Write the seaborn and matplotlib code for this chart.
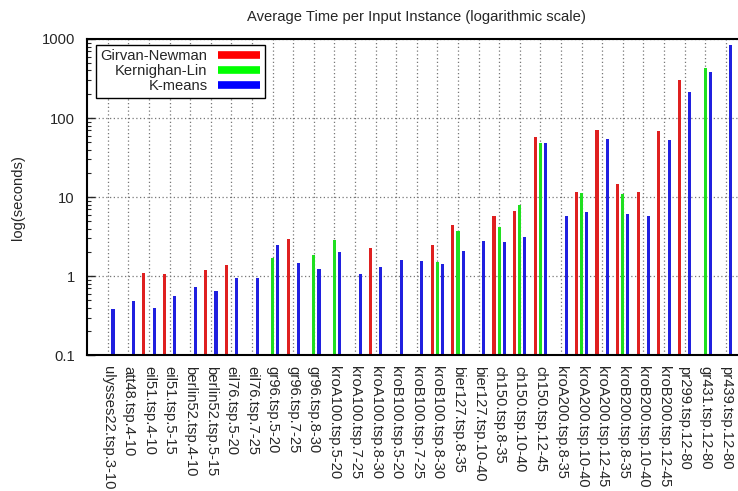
import numpy as np
import pandas as pd
import matplotlib
matplotlib.use("Agg")
import matplotlib.pyplot as plt
from matplotlib.lines import Line2D
import seaborn as sns

instances = [
    "ulysses22.tsp.3-10", "att48.tsp.4-10", "eil51.tsp.4-10", "eil51.tsp.5-15",
    "berlin52.tsp.4-10", "berlin52.tsp.5-15", "eil76.tsp.5-20", "eil76.tsp.7-25",
    "gr96.tsp.5-20", "gr96.tsp.7-25", "gr96.tsp.8-30", "kroA100.tsp.5-20",
    "kroA100.tsp.7-25", "kroA100.tsp.8-30", "kroB100.tsp.5-20", "kroB100.tsp.7-25",
    "kroB100.tsp.8-30", "bier127.tsp.8-35", "bier127.tsp.10-40", "ch150.tsp.8-35",
    "ch150.tsp.10-40", "ch150.tsp.12-45", "kroA200.tsp.8-35", "kroA200.tsp.10-40",
    "kroA200.tsp.12-45", "kroB200.tsp.8-35", "kroB200.tsp.10-40", "kroB200.tsp.12-45",
    "pr299.tsp.12-80", "gr431.tsp.12-80", "pr439.tsp.12-80",
]
nan = np.nan
girvan_newman = [nan, nan, 1.10, 1.07, nan, 1.21, 1.39, nan, nan, 2.97, nan, nan,
                 nan, 2.28, nan, nan, 2.49, 4.46, nan, 5.80, 6.71, 58.0, nan, 11.7,
                 71.1, 14.7, 11.7, 69.1, 305, nan, nan]
kernighan_lin = [nan, nan, nan, nan, nan, nan, nan, nan, 1.71, nan, 1.86, 2.88,
                 nan, nan, nan, nan, 1.52, 3.74, nan, 4.21, 7.99, 48.7, nan, 11.3,
                 nan, 11.0, nan, nan, nan, 433, nan]
k_means = [0.39, 0.49, 0.40, 0.56, 0.74, 0.65, 0.95, 0.95, 2.49, 1.49, 1.24, 2.03,
           1.07, 1.31, 1.61, 1.56, 1.43, 2.09, 2.80, 2.72, 3.14, 48.7, 5.80, 6.52,
           54.7, 6.15, 5.80, 53.1, 215, 386, 847]

algorithms = ["Girvan-Newman", "Kernighan-Lin", "K-means"]
colors = ["#ff0000", "#00ff00", "#0000ff"]

rows = []
for alg, vals in zip(algorithms, [girvan_newman, kernighan_lin, k_means]):
    for inst, v in zip(instances, vals):
        rows.append({"instance": inst, "algorithm": alg, "time": v})
df = pd.DataFrame(rows).dropna()

sns.set_style("white")
plt.rcParams["font.family"] = ["Liberation Sans", "DejaVu Sans"]
plt.rcParams["font.size"] = 10.6

fig = plt.figure(figsize=(7.38, 4.91), dpi=100)
W, H = 738, 491
left, right, top, bottom = 87.3, 746.3, 39.0, 355.3
ax = fig.add_axes([left / W, 1 - bottom / H, (right - left) / W, (bottom - top) / H])

sns.barplot(data=df, x="instance", y="time", hue="algorithm", order=instances,
            hue_order=algorithms, palette=colors, width=0.75, gap=0.4,
            errorbar=None, linewidth=0, ax=ax, legend=False)

ax.set_yscale("log")
ax.set_ylim(0.1, 1000)
ax.set_xlim(-1, len(instances))
ax.set_yticks([0.1, 1, 10, 100, 1000])
ax.set_yticklabels(["0.1", "1", "10", "100", "1000"])
ax.yaxis.set_minor_locator(matplotlib.ticker.LogLocator(base=10, subs=np.arange(2, 10)))
ax.yaxis.set_minor_formatter(matplotlib.ticker.NullFormatter())
ax.tick_params(axis="y", which="major", direction="in", length=6, width=1, pad=9, left=True, right=False)
ax.tick_params(axis="y", which="minor", direction="in", length=3, width=0.8, left=True, right=False)
ax.tick_params(axis="x", length=0, pad=8)
ax.set_xticks(range(len(instances)))
ax.set_xticklabels(instances, rotation=-90, ha="center", va="top")

ax.grid(True, which="major", axis="both", color="#777777", linestyle=(0, (1, 2)), linewidth=0.9)
ax.set_axisbelow(True)
for s in ax.spines.values():
    s.set_linewidth(1.5)
    s.set_color("black")

ax.set_xlabel("")
ax.set_ylabel("log(seconds)", labelpad=12)
ax.set_title("Average Time per Input Instance (logarithmic scale)", pad=13, fontsize=10.6)

handles = [Line2D([0], [0], color=c, linewidth=5.5, solid_capstyle="butt") for c in colors]
leg = ax.legend(handles, algorithms, loc="upper left", bbox_to_anchor=(0.0132, 0.981),
                borderaxespad=0, markerfirst=False, frameon=True, fancybox=False,
                edgecolor="black", framealpha=1, handlelength=2.9, handletextpad=0.7,
                labelspacing=0.07, borderpad=0.3)
leg.get_frame().set_linewidth(1.0)

fig.savefig("out.png", dpi=100)
